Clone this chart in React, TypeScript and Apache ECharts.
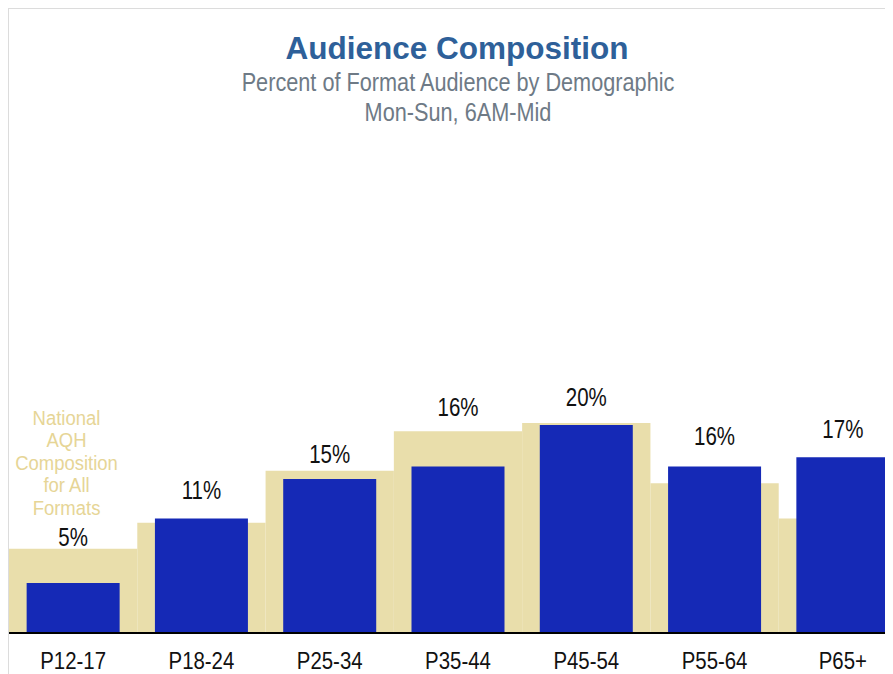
import React, { useEffect, useRef } from "react";
import * as echarts from "echarts";

const categories = ["P12-17", "P18-24", "P25-34", "P35-44", "P45-54", "P55-64", "P65+"];
const formatShare = [4.8, 11.0, 14.8, 16.0, 20.0, 16.0, 16.9];
const nationalShare = [8.1, 10.6, 15.6, 19.4, 20.2, 14.4, 11.0];
const titleText = "Audience Composition";
const subtitleLines = ["Percent of Format Audience by Demographic", "Mon-Sun, 6AM-Mid"];
const nationalNote = ["National", "AQH", "Composition", "for All", "Formats"];

const SANS = "'Liberation Sans', Arial, sans-serif";
const NARROW_SCALE = 0.82;

export default function App() {
  const ref = useRef<HTMLDivElement>(null);
  useEffect(() => {
    if (!ref.current) return;
    const chart = echarts.init(ref.current, null, { renderer: "svg" });
    // vertical lift of each value label above its bar top (style only)
    const labelLift: Record<number, number> = { 0: 46, 2: 25, 3: 59, 5: 30 };
    chart.setOption({
      animation: false,
      grid: { left: 0, right: 0, top: 208, bottom: 41, containLabel: false },
      xAxis: [
        {
          type: "category",
          data: categories,
          z: 5,
          axisLine: { show: true, lineStyle: { color: "#000", width: 2 } },
          axisTick: { show: false },
          axisLabel: { show: false },
        },
        { type: "category", data: categories, show: false },
      ],
      yAxis: { type: "value", min: 0, max: 40, show: false },
      graphic: [
        {
          type: "text",
          x: 448,
          y: 38.5,
          style: {
            text: titleText,
            fill: "#2E6099",
            font: `bold 31.5px ${SANS}`,
            align: "center",
            verticalAlign: "middle",
          },
        },
        ...subtitleLines.map((t, i) => ({
          type: "text",
          x: 449,
          y: 73.5 + i * 29.5,
          scaleX: 0.868,
          style: {
            text: t,
            fill: "#6E7A86",
            font: `25px ${SANS}`,
            align: "center",
            verticalAlign: "middle",
          },
        })),
        {
          type: "text",
          x: 57.5,
          y: 453.5,
          scaleX: 0.88,
          style: {
            text: nationalNote.join("\n"),
            fill: "#E6D596",
            font: `21px ${SANS}`,
            lineHeight: 22.5,
            align: "center",
            verticalAlign: "middle",
          },
        },
      ],
      series: [
        {
          type: "bar",
          xAxisIndex: 0,
          barCategoryGap: "0%",
          barWidth: "100%",
          itemStyle: { color: "#E9DEAB" },
          data: nationalShare,
          silent: true,
        },
        {
          type: "bar",
          xAxisIndex: 1,
          barWidth: 93,
          itemStyle: { color: "#1529B6" },
          data: formatShare,
          silent: true,
        },
        {
          type: "custom",
          xAxisIndex: 1,
          clip: false,
          silent: true,
          z: 10,
          data: formatShare.map((v, i) => [i, v]),
          renderItem: (params: any, api: any) => {
            const i = api.value(0);
            const v = api.value(1);
            const pt = api.coord([i, v]);
            return {
              type: "text",
              x: pt[0],
              y: pt[1] - (labelLift[params.dataIndex] ?? 28),
              scaleX: NARROW_SCALE,
              style: {
                text: `${Math.round(v)}%`,
                fill: "#111",
                font: `25px ${SANS}`,
                align: "center",
                verticalAlign: "middle",
              },
            };
          },
        },
        {
          type: "custom",
          xAxisIndex: 1,
          clip: false,
          silent: true,
          z: 10,
          data: categories.map((_, i) => [i, 0]),
          renderItem: (params: any, api: any) => {
            const pt = api.coord([api.value(0), 0]);
            return {
              type: "text",
              x: pt[0],
              y: pt[1] + 28,
              scaleX: 0.85,
              style: {
                text: categories[params.dataIndex],
                fill: "#111",
                font: `24px ${SANS}`,
                align: "center",
                verticalAlign: "middle",
              },
            };
          },
        },
      ],
    });
    return () => chart.dispose();
  }, []);
  return (
    <div
      style={{
        width: 885,
        height: 666,
        boxSizing: "border-box",
        borderTop: "1px solid #dcdcdc",
        borderLeft: "1px solid #dcdcdc",
        overflow: "hidden",
      }}
    >
      <div ref={ref} style={{ width: 898, height: 665 }} />
    </div>
  );
}
